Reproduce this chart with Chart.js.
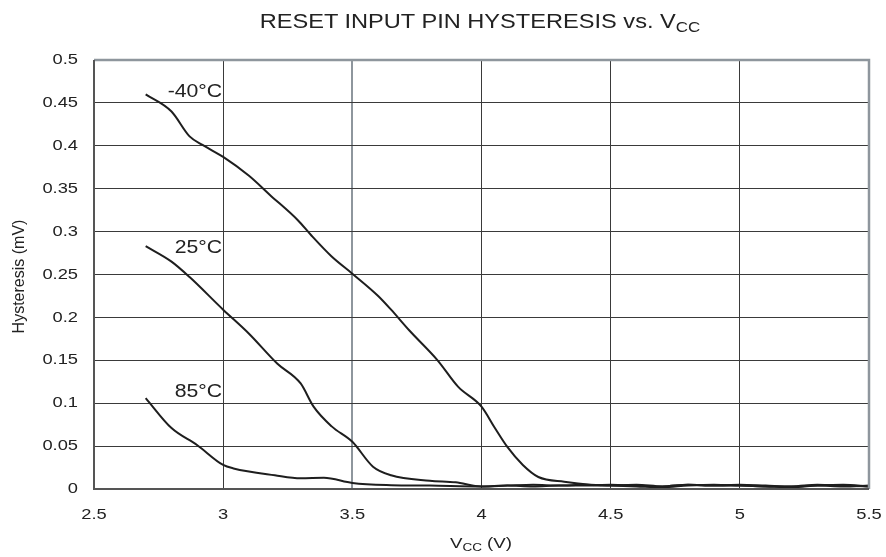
<!DOCTYPE html>
<html><head><meta charset="utf-8">
<script src="https://cdn.jsdelivr.net/npm/chart.js@4/dist/chart.umd.min.js"></script>
<style>
html,body{margin:0;padding:0;background:#fff;}
#wrap{position:relative;width:886px;height:557px;font-family:"Liberation Sans",Arial,sans-serif;color:#222;}
.t{position:absolute;white-space:nowrap;transform-origin:center center;line-height:1;}
#title{left:480px;top:21px;font-size:20px;transform:translate(-50%,-50%) scaleX(1.18);}
#xt{left:481px;top:542px;font-size:15px;transform:translate(-50%,-50%) scaleX(1.25);}
sub{font-size:0.72em;vertical-align:-0.3em;line-height:0;}
canvas{position:absolute;left:0;top:0;}
</style></head>
<body><div id="wrap">
<canvas id="c" width="886" height="557"></canvas>
<div id="title" class="t">RESET INPUT PIN HYSTERESIS vs. V<sub>CC</sub></div>
<div id="xt" class="t">V<sub>CC</sub> (V)</div>
</div>
<script>
const seriesNames = ["-40°C", "25°C", "85°C"];
const vccM40 = [2.7,2.8,2.87,2.92,3.0,3.1,3.18,3.29,3.34,3.42,3.5,3.6,3.65,3.72,3.83,3.91,4.0,4.05,4.1,4.16,4.22,4.32,4.5,4.6,4.7,4.8,4.9,5.0,5.1,5.2,5.3,5.4,5.5];
const hystM40 = [0.460,0.440,0.411,0.401,0.387,0.365,0.343,0.313,0.296,0.271,0.251,0.225,0.209,0.185,0.150,0.119,0.096,0.072,0.049,0.028,0.014,0.0085,0.004,0.005,0.003,0.005,0.004,0.005,0.004,0.003,0.005,0.004,0.003];
const vcc25 = [2.7,2.8,2.87,3.0,3.1,3.21,3.3,3.35,3.42,3.5,3.58,3.65,3.8,3.9,4.0,4.1,4.2,4.3,4.4,4.5,4.6,4.7,4.8,4.9,5.0,5.1,5.2,5.3,5.4,5.5];
const hyst25 = [0.283,0.265,0.247,0.209,0.181,0.146,0.123,0.096,0.073,0.055,0.026,0.016,0.0097,0.0078,0.003,0.004,0.005,0.004,0.005,0.004,0.003,0.002,0.004,0.005,0.004,0.003,0.002,0.004,0.005,0.003];
const vcc85 = [2.7,2.8,2.9,3.0,3.04,3.2,3.3,3.39,3.5,3.65,3.8,4.0,4.1,4.2,4.3,4.4,4.5,4.6,4.7,4.8,4.9,5.0,5.1,5.2,5.3,5.4,5.5];
const hyst85 = [0.106,0.071,0.051,0.028,0.024,0.016,0.0125,0.013,0.007,0.0045,0.004,0.003,0.004,0.003,0.004,0.004,0.005,0.004,0.003,0.005,0.004,0.004,0.003,0.003,0.004,0.003,0.004];
const labelPos = [[3.0,0.463],[3.0,0.281],[3.0,0.113]];
const xTicks = [2.5,3,3.5,4,4.5,5,5.5];
const yTicks = [0,0.05,0.1,0.15,0.2,0.25,0.3,0.35,0.4,0.45,0.5];
const yTitle = "Hysteresis (mV)";

const FONT = '"Liberation Sans", Arial, sans-serif';
const pts = (xs, ys) => xs.map((x,i)=>({x:x,y:ys[i]}));
const ds = (d) => ({data:d,borderColor:'#1e1e1e',borderWidth:2,pointRadius:0,cubicInterpolationMode:'monotone',fill:false});

function stretchText(ctx, txt, x, y, align, sx){
  ctx.save();
  ctx.translate(x,y); ctx.scale(sx,1);
  ctx.textAlign=align; ctx.textBaseline='middle';
  ctx.fillText(txt,0,0);
  ctx.restore();
}

const framePlugin = {
  id:'frame',
  afterDraw(chart){
    const {ctx, chartArea:a, scales} = chart;
    ctx.save();
    ctx.strokeStyle='#8e969d'; ctx.lineWidth=2.5;
    ctx.beginPath();
    ctx.moveTo(a.left,a.top); ctx.lineTo(a.right,a.top); ctx.lineTo(a.right,a.bottom);
    ctx.stroke();
    ctx.strokeStyle='#555'; ctx.lineWidth=2;
    ctx.beginPath(); ctx.moveTo(a.left,a.top); ctx.lineTo(a.left,a.bottom); ctx.lineTo(a.right,a.bottom); ctx.stroke();
    ctx.fillStyle='#222';
    ctx.font='15px '+FONT;
    yTicks.forEach(v=>stretchText(ctx,String(v),78,scales.y.getPixelForValue(v),'right',1.22));
    xTicks.forEach(v=>stretchText(ctx,String(v),scales.x.getPixelForValue(v),515,'center',1.22));
    ctx.save();
    ctx.font='16px '+FONT;
    ctx.translate(20,(a.top+a.bottom)/2+2); ctx.rotate(-Math.PI/2);
    ctx.textAlign='center'; ctx.textBaseline='middle';
    ctx.fillText(yTitle,0,0);
    ctx.restore();
    ctx.font='18px '+FONT;
    seriesNames.forEach((n,i)=>{
      stretchText(ctx,n,scales.x.getPixelForValue(labelPos[i][0])-1,scales.y.getPixelForValue(labelPos[i][1]),'right',1.18);
    });
    ctx.restore();
  }
};

new Chart(document.getElementById('c'), {
  type:'line',
  data:{datasets:[ds(pts(vccM40,hystM40)),ds(pts(vcc25,hyst25)),ds(pts(vcc85,hyst85))]},
  options:{
    responsive:false, animation:false,
    layout:{padding:{left:0,right:17,top:60,bottom:0}},
    plugins:{legend:{display:false},tooltip:{enabled:false}},
    scales:{
      x:{type:'linear',min:2.5,max:5.5,
        afterBuildTicks(s){s.ticks=xTicks.map(v=>({value:v}));},
        afterFit(s){s.height=68;s.paddingLeft=0;s.paddingRight=0;},
        grid:{drawTicks:false,color:(c)=>c.tick && c.tick.value===3.5?'#8e969d':'#3a3a3a',lineWidth:(c)=>c.tick && c.tick.value===3.5?2:1},
        border:{display:false},
        ticks:{display:false}
      },
      y:{type:'linear',min:0,max:0.5,
        afterBuildTicks(s){s.ticks=yTicks.map(v=>({value:v}));},
        afterFit(s){s.width=94;s.paddingTop=0;s.paddingBottom=0;},
        grid:{drawTicks:false,color:'#3a3a3a',lineWidth:1},
        border:{display:false},
        ticks:{display:false}
      }
    }
  },
  plugins:[framePlugin]
});
</script>
</body></html>
